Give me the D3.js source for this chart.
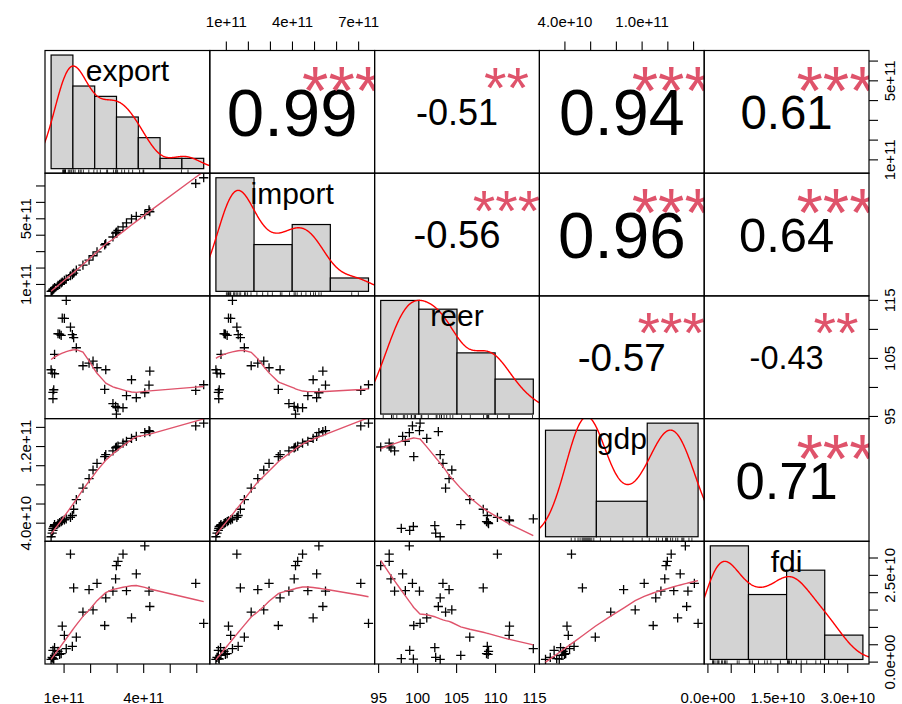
<!DOCTYPE html>
<html>
<head>
<meta charset="utf-8">
<script src="https://cdn.jsdelivr.net/npm/d3@7"></script>
<style>
  body { margin: 0; background: #fff; }
  svg { display: block; }
</style>
</head>
<body>
<svg id="chart" width="902" height="704"></svg>
<script>
const varNames = ["export", "import", "reer", "gdp", "fdi"];

const exportVals = [0.53e11, 0.57e11, 0.60e11, 0.60e11, 0.63e11, 0.66e11, 0.66e11, 0.79e11, 0.85e11, 0.91e11,
  0.95e11, 1.03e11, 1.10e11, 1.26e11, 1.33e11, 1.38e11, 1.48e11, 1.73e11, 1.96e11, 2.11e11,
  2.26e11, 2.55e11, 2.59e11, 2.86e11, 2.96e11, 2.99e11, 3.05e11, 3.24e11, 3.37e11, 3.56e11,
  3.74e11, 4.06e11, 4.22e11, 4.25e11, 5.98e11, 6.28e11];

const importVals = [0.55e11, 0.60e11, 0.66e11, 0.68e11, 0.70e11, 0.76e11, 0.78e11, 0.92e11, 0.98e11, 1.06e11,
  1.12e11, 1.22e11, 1.30e11, 1.50e11, 1.56e11, 1.66e11, 1.84e11, 2.15e11, 2.45e11, 2.72e11,
  2.96e11, 3.38e11, 3.46e11, 3.86e11, 4.10e11, 4.16e11, 4.26e11, 4.48e11, 4.72e11, 4.96e11,
  5.12e11, 5.22e11, 5.52e11, 5.40e11, 7.12e11, 7.47e11];

const reerVals = [102.96, 102.38, 99.05, 97.97, 99.52, 102.27, 105.6, 109.16, 109.1, 108.9,
  111.85, 111.8, 114.9, 110.3, 109.0, 108.48, 106.75, 103.65, 104.1, 104.45,
  103.31, 99.57, 102.96, 97.11, 96.64, 95.33, 96.42, 96.42, 98.49, 101.24,
  98.14, 99.0, 100.3, 102.72, 99.4, 100.38];

const gdpVals = [2.53e10, 2.9e10, 3.2e10, 3.4e10, 3.6e10, 3.7e10, 3.8e10, 3.9e10, 4.0e10, 4.1e10,
  4.2e10, 4.3e10, 4.4e10, 4.55e10, 4.75e10, 5.4e10, 6.4e10, 7.6e10, 8.6e10, 9.5e10,
  10.2e10, 10.9e10, 11.1e10, 11.5e10, 11.8e10, 11.9e10, 12.0e10, 12.3e10, 12.5e10, 12.8e10,
  13.0e10, 13.4e10, 13.6e10, 13.5e10, 14.1e10, 14.39e10];

const fdiVals = [0.062e10, 0.122e10, 0.323e10, 0.085e10, 0.07e10, 0.401e10, 0.18e10, 0.295e10, 0.208e10, 0.228e10,
  1.02e10, 0.754e10, 0.372e10, 3.10e10, 0.438e10, 2.125e10, 0.706e10, 1.424e10, 2.076e10, 1.493e10,
  2.257e10, 1.04e10, 1.838e10, 2.03e10, 2.384e10, 2.766e10, 2.89e10, 3.10e10, 2.047e10, 1.263e10,
  2.527e10, 3.336e10, 2.03e10, 1.588e10, 2.257e10, 1.10e10];

// histogram breaks
const exportBreaks = [0, 1e11, 2e11, 3e11, 4e11, 5e11, 6e11, 7e11];
const importBreaks = [0, 2e11, 4e11, 6e11, 8e11];
const reerBreaks = [95, 100, 105, 110, 115];
const gdpBreaks = [0, 5e10, 10e10, 15e10];
const fdiBreaks = [0, 1e10, 2e10, 3e10, 4e10];

// correlations shown in the upper panels (row by row)
const corrValues = [0.99, -0.51, 0.94, 0.61, -0.56, 0.96, 0.64, -0.57, -0.43, 0.71];
const corrStars = ["***", "**", "***", "***", "***", "***", "***", "***", "**", "***"];

// outer axes: ticks and labels
const exportTicks = [1e11, 2e11, 3e11, 4e11, 5e11, 6e11];
const exportBottomLabels = ["1e+11", "", "", "4e+11", "", ""];
const exportRightLabels = ["1e+11", "", "", "", "5e+11", ""];
const importTicks = [1e11, 2e11, 3e11, 4e11, 5e11, 6e11, 7e11];
const importTopLabels = ["1e+11", "", "", "4e+11", "", "", "7e+11"];
const importLeftLabels = ["1e+11", "", "", "", "5e+11", "", ""];
const reerTicks = [95, 100, 105, 110, 115];
const reerBottomLabels = ["95", "100", "105", "110", "115"];
const reerRightLabels = ["95", "", "105", "", "115"];
const gdpTicks = [4e10, 6e10, 8e10, 10e10, 12e10, 14e10];
const gdpTopLabels = ["4.0e+10", "", "", "1.0e+11", "", ""];
const gdpLeftLabels = ["4.0e+10", "", "", "", "1.2e+11", ""];
const fdiTicks = [0, 0.5e10, 1e10, 1.5e10, 2e10, 2.5e10, 3e10];
const fdiBottomLabels = ["0.0e+00", "", "", "1.5e+10", "", "", "3.0e+10"];
const fdiRightLabels = ["0.0e+00", "", "", "", "", "2.5e+10", ""];

// ---- helpers ----
const font = '"Liberation Sans", Arial, Helvetica, sans-serif';
const svg = d3.select("#chart");
const vars = [exportVals, importVals, reerVals, gdpVals, fdiVals];
const breaks = [exportBreaks, importBreaks, reerBreaks, gdpBreaks, fdiBreaks];
const nV = vars.length;
const L = 45, T = 50.5, RR = 869, BB = 664;
const PW = (RR - L) / nV, PH = (BB - T) / nV;

const padded = (e) => { const d = (e[1] - e[0]) * 0.04; return [e[0] - d, e[1] + d]; };

const xs = vars.map((v, j) => d3.scaleLinear().domain(padded(d3.extent(v))).range([L + j * PW, L + (j + 1) * PW]));
const ys = vars.map((v, i) => d3.scaleLinear().domain(padded(d3.extent(v))).range([T + (i + 1) * PH, T + i * PH]));

// R's lowess (clowess), 1-based arrays
function lowest(x, y, n, xs_, nleft, nright, w, userw, rw) {
  const range = x[n] - x[1];
  const h = Math.max(xs_ - x[nleft], x[nright] - xs_);
  const h9 = 0.999 * h, h1 = 0.001 * h;
  let a = 0, j = nleft;
  while (j <= n) {
    w[j] = 0;
    const r = Math.abs(x[j] - xs_);
    if (r <= h9) {
      w[j] = r <= h1 ? 1 : Math.pow(1 - Math.pow(r / h, 3), 3);
      if (userw) w[j] *= rw[j];
      a += w[j];
    } else if (x[j] > xs_) break;
    j++;
  }
  const nrt = j - 1;
  if (a <= 0) return null;
  for (j = nleft; j <= nrt; j++) w[j] /= a;
  if (h > 0) {
    a = 0;
    for (j = nleft; j <= nrt; j++) a += w[j] * x[j];
    let b = xs_ - a, c = 0;
    for (j = nleft; j <= nrt; j++) c += w[j] * (x[j] - a) * (x[j] - a);
    if (Math.sqrt(c) > 0.001 * range) {
      b /= c;
      for (j = nleft; j <= nrt; j++) w[j] *= (b * (x[j] - a) + 1);
    }
  }
  let out = 0;
  for (j = nleft; j <= nrt; j++) out += w[j] * y[j];
  return out;
}

function lowess(xIn, yIn, f = 2 / 3, nsteps = 3) {
  const order = d3.range(xIn.length).sort((a, b) => xIn[a] - xIn[b]);
  const n = order.length;
  const x = [0, ...order.map((k) => xIn[k])];
  const y = [0, ...order.map((k) => yIn[k])];
  const delta = 0.01 * (x[n] - x[1]);
  const fit = new Array(n + 1).fill(0), rw = new Array(n + 1).fill(1);
  const res = new Array(n + 1).fill(0), w = new Array(n + 1).fill(0);
  const ns = Math.max(2, Math.min(n, Math.floor(f * n + 1e-7)));
  let iter = 1;
  while (iter <= nsteps + 1) {
    let nleft = 1, nright = ns, last = 0, i = 1;
    for (;;) {
      if (i < n) {
        while (nright < n) {
          const d1 = x[i] - x[nleft], d2 = x[nright + 1] - x[i];
          if (d1 <= d2) break;
          nleft++; nright++;
        }
      }
      const v = lowest(x, y, n, x[i], nleft, nright, w, iter > 1, rw);
      fit[i] = v === null ? y[i] : v;
      if (last < i - 1) {
        const denom = x[i] - x[last];
        for (let j = last + 1; j < i; j++) {
          const alpha = (x[j] - x[last]) / denom;
          fit[j] = alpha * fit[i] + (1 - alpha) * fit[last];
        }
      }
      last = i;
      const cut = x[last] + delta;
      for (i = last + 1; i <= n; i++) {
        if (x[i] > cut) break;
        if (x[i] === x[last]) { fit[i] = fit[last]; last = i; }
      }
      i = Math.max(last + 1, i - 1);
      if (last >= n) break;
    }
    for (let k = 1; k <= n; k++) res[k] = y[k] - fit[k];
    let sc = 0;
    for (let k = 1; k <= n; k++) sc += Math.abs(res[k]);
    sc /= n;
    if (iter > nsteps) break;
    const ar = res.slice(1).map(Math.abs).sort((a, b) => a - b);
    const m1 = Math.floor(n / 2);
    const cmad = n % 2 === 0 ? 3 * (ar[m1] + ar[n - m1 - 1]) : 6 * ar[m1];
    if (cmad < 1e-7 * sc) break;
    const c9 = 0.999 * cmad, c1 = 0.001 * cmad;
    for (let k = 1; k <= n; k++) {
      const r = Math.abs(res[k]);
      rw[k] = r <= c1 ? 1 : r <= c9 ? Math.pow(1 - Math.pow(r / cmad, 2), 2) : 0;
    }
    iter++;
  }
  return d3.range(1, n + 1).map((k) => [x[k], fit[k]]);
}

// gaussian kernel density, bw.nrd0, 512 points, cut = 3
function density(v) {
  const n = v.length;
  const s = [...v].sort(d3.ascending);
  const sd = d3.deviation(v);
  const iqr = d3.quantileSorted(s, 0.75) - d3.quantileSorted(s, 0.25);
  const lo = Math.min(sd, iqr / 1.34) || sd;
  const bw = 0.9 * lo * Math.pow(n, -0.2);
  const from = s[0] - 3 * bw, to = s[n - 1] + 3 * bw;
  return d3.range(512).map((k) => {
    const x = from + (to - from) * k / 511;
    let d = 0;
    for (const xi of v) { const z = (x - xi) / bw; d += Math.exp(-0.5 * z * z); }
    return [x, d / (n * bw * Math.sqrt(2 * Math.PI))];
  });
}

const measure = svg.append("text").attr("font-family", font).attr("font-size", 100).attr("visibility", "hidden");
function textWidth(s, fs) { measure.text(s); return measure.node().getComputedTextLength() * fs / 100; }

// clip paths per panel
const defs = svg.append("defs");
for (let i = 0; i < nV; i++) {
  for (let j = 0; j < nV; j++) {
    defs.append("clipPath").attr("id", `clip${i}${j}`)
      .append("rect").attr("x", L + j * PW).attr("y", T + i * PH).attr("width", PW).attr("height", PH);
  }
}

const plus = (x, y) => `M${x - 4.6},${y}h9.2M${x},${y - 4.6}v9.2`;

// ---- panels ----
let ci = 0;
for (let i = 0; i < nV; i++) {
  for (let j = 0; j < nV; j++) {
    const x0 = L + j * PW, y0 = T + i * PH;
    const g = svg.append("g");
    if (i > j) {
      // lower: points + lowess
      const px = vars[j], py = vars[i];
      g.append("path")
        .attr("d", px.map((d, k) => plus(xs[j](d), ys[i](py[k]))).join(""))
        .attr("stroke", "#000").attr("stroke-width", 1.3).attr("fill", "none");
      const lw = lowess(px, py);
      g.append("path")
        .attr("d", d3.line().x((d) => xs[j](d[0])).y((d) => ys[i](d[1]))(lw))
        .attr("clip-path", `url(#clip${i}${j})`)
        .attr("stroke", "#DF536B").attr("stroke-width", 1.4).attr("fill", "none");
    } else if (i < j) {
      // upper: correlation
      const r = corrValues[ci], stars = corrStars[ci];
      ci++;
      const txt = r.toFixed(2);
      const base = 0.8 * PW / textWidth(txt, 1);
      const fs = base * (Math.abs(r) + 0.3) / 1.3;
      g.append("text")
        .attr("x", x0 + 0.5 * PW).attr("y", y0 + 0.5 * PH + 0.36 * fs)
        .attr("text-anchor", "middle").attr("font-family", font).attr("font-size", fs)
        .attr("fill", "#000").text(txt);
      g.append("text")
        .attr("clip-path", `url(#clip${i}${j})`)
        .attr("x", x0 + 0.8 * PW).attr("y", y0 + 0.2 * PH + 0.57 * base)
        .attr("text-anchor", "middle").attr("font-family", font).attr("font-size", base)
        .attr("fill", "#DF536B").text(stars);
    } else {
      // diagonal: histogram + density + rug + name
      const v = vars[i], br = breaks[i], n = v.length;
      const counts = br.slice(1).map(() => 0);
      v.forEach((d) => { counts[Math.max(0, d3.bisectLeft(br, d) - 1)]++; });
      const dens = counts.map((c, q) => c / (n * (br[q + 1] - br[q])));
      const hx = d3.scaleLinear().domain(padded([br[0], br[br.length - 1]])).range([x0, x0 + PW]);
      const hy = d3.scaleLinear().domain(padded([0, d3.max(dens)])).range([y0 + PH, y0]);
      g.selectAll("rect.bar").data(dens).join("rect").attr("class", "bar")
        .attr("x", (d, q) => hx(br[q])).attr("width", (d, q) => hx(br[q + 1]) - hx(br[q]))
        .attr("y", (d) => hy(d)).attr("height", (d) => hy(0) - hy(d))
        .attr("fill", "#D3D3D3").attr("stroke", "#000").attr("stroke-width", 1.2);
      g.append("path")
        .attr("d", d3.line().x((d) => hx(d[0])).y((d) => hy(d[1]))(density(v)))
        .attr("clip-path", `url(#clip${i}${j})`)
        .attr("stroke", "#FF0000").attr("stroke-width", 1.4).attr("fill", "none");
      g.append("path")
        .attr("d", v.map((d) => `M${hx(d)},${y0 + PH}v${-0.03 * PH}`).join(""))
        .attr("stroke", "#000").attr("stroke-width", 0.8);
      g.append("text")
        .attr("x", x0 + 0.5 * PW).attr("y", y0 + PH - 0.8333 * PH + 0.33 * 30)
        .attr("text-anchor", "middle").attr("font-family", font).attr("font-size", 30)
        .attr("fill", "#000").text(varNames[i]);
    }
    g.append("rect").attr("x", x0).attr("y", y0).attr("width", PW).attr("height", PH)
      .attr("fill", "none").attr("stroke", "#000").attr("stroke-width", 1.2);
  }
}

// ---- outer axes ----
function drawAxis(side, scale, ticks, labels, pos) {
  const maker = { top: d3.axisTop, bottom: d3.axisBottom, left: d3.axisLeft, right: d3.axisRight }[side];
  const ax = maker(scale).tickValues(ticks).tickFormat((d, k) => labels[k]).tickSizeInner(9).tickSizeOuter(0);
  const vertical = side === "left" || side === "right";
  const g = svg.append("g").attr("transform", vertical ? `translate(${pos},0)` : `translate(0,${pos})`).call(ax);
  g.select(".domain").remove();
  g.selectAll(".tick line").attr("stroke", "#000").attr("stroke-width", 1.1);
  const t = g.selectAll(".tick text").attr("fill", "#000").attr("font-family", font)
    .attr("font-size", 15).attr("dy", null).attr("x", 0).attr("y", 0).attr("text-anchor", "middle");
  if (side === "top") t.attr("y", -23.3);
  if (side === "bottom") t.attr("y", 38.5);
  if (side === "left") t.attr("transform", "translate(-14,0) rotate(-90)");
  if (side === "right") t.attr("transform", "translate(26,0) rotate(-90)");
}

drawAxis("top", xs[1], importTicks, importTopLabels, T);
drawAxis("top", xs[3], gdpTicks, gdpTopLabels, T);
drawAxis("bottom", xs[0], exportTicks, exportBottomLabels, BB);
drawAxis("bottom", xs[2], reerTicks, reerBottomLabels, BB);
drawAxis("bottom", xs[4], fdiTicks, fdiBottomLabels, BB);
drawAxis("left", ys[1], importTicks, importLeftLabels, L);
drawAxis("left", ys[3], gdpTicks, gdpLeftLabels, L);
drawAxis("right", ys[0], exportTicks, exportRightLabels, RR);
drawAxis("right", ys[2], reerTicks, reerRightLabels, RR);
drawAxis("right", ys[4], fdiTicks, fdiRightLabels, RR);
</script>
</body>
</html>
